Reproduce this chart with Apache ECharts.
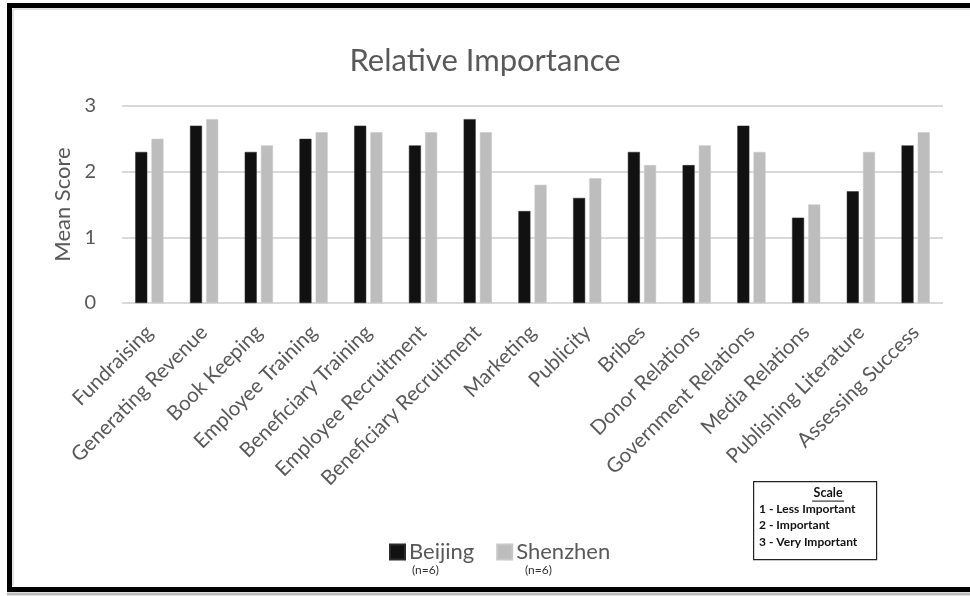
<!DOCTYPE html>
<html>
<head>
<meta charset="utf-8">
<style>
  html, body { margin: 0; padding: 0; background: #fff; }
  #chart { width: 970px; height: 596px; }
</style>
<script src="https://cdn.jsdelivr.net/npm/echarts@6/dist/echarts.min.js"></script>
</head>
<body>
<div id="chart"></div>
<script>
// Organisational functions rated on a 1-3 scale
const categories = [
  'Fundraising', 'Generating Revenue', 'Book Keeping', 'Employee Training',
  'Beneficiary Training', 'Employee Recruitment', 'Beneficiary Recruitment',
  'Marketing', 'Publicity', 'Bribes', 'Donor Relations', 'Government Relations',
  'Media Relations', 'Publishing Literature', 'Assessing Success'
];
const beijing  = [2.3, 2.7, 2.3, 2.5, 2.7, 2.4, 2.8, 1.4, 1.6, 2.3, 2.1, 2.7, 1.3, 1.7, 2.4];
const shenzhen = [2.5, 2.8, 2.4, 2.6, 2.6, 2.6, 2.6, 1.8, 1.9, 2.1, 2.4, 2.3, 1.5, 2.3, 2.6];
const seriesNames = ['Beijing', 'Shenzhen'];
const sampleNotes = ['(n=6)', '(n=6)'];
const scaleTitle = 'Scale';
const scaleLines = ['1 - Less Important', '2 - Important', '3 - Very Important'];

const FONT = 'Lato, "Open Sans", sans-serif';
const TEXT = '#595959';

const chart = echarts.init(document.getElementById('chart'), null, { renderer: 'canvas' });

const scaleBox = {
  type: 'group',
  left: 753, top: 481,
  children: [
    { type: 'rect', shape: { x: 0.5, y: 0.5, width: 123, height: 78 },
      style: { fill: '#fff', stroke: '#222', lineWidth: 1.2 } },
    { type: 'text', x: 75, y: 5,
      style: { text: scaleTitle, fill: '#111', font: 'bold 12.5px ' + FONT, textAlign: 'center' } },
    { type: 'line', shape: { x1: 59, y1: 20, x2: 91, y2: 20 },
      style: { stroke: '#111', lineWidth: 1 } },
    ...scaleLines.map((t, i) => ({
      type: 'text', x: 6, y: 22 + i * 16.5,
      style: { text: t, fill: '#111', font: 'bold 12px ' + FONT }
    }))
  ]
};

const option = {
  backgroundColor: '#fff',
  animation: false,
  title: {
    text: 'Relative Importance',
    left: 'center', top: 40,
    textStyle: { fontFamily: FONT, fontSize: 31, fontWeight: 'normal', color: TEXT }
  },
  legend: {
    data: seriesNames,
    left: 384, top: 536,
    itemWidth: 15, itemHeight: 15, itemGap: 22,
    icon: 'rect',
    textStyle: { fontFamily: FONT, fontSize: 22, color: TEXT, padding: [0, 0, 0, -1] }
  },
  grid: { left: 122, right: 27, top: 106, bottom: 293 },
  xAxis: {
    type: 'category',
    data: categories,
    axisLine: { show: false },
    axisTick: { show: false },
    axisLabel: {
      interval: 0, rotate: 45, margin: 26,
      fontFamily: FONT, fontSize: 20.5, color: TEXT
    }
  },
  yAxis: {
    type: 'value',
    min: 0, max: 3, interval: 1,
    name: 'Mean Score',
    nameLocation: 'middle',
    nameGap: 44,
    nameTextStyle: { fontFamily: FONT, fontSize: 22, color: TEXT },
    axisLabel: { fontFamily: FONT, fontSize: 20, color: TEXT, margin: 26 },
    splitLine: { lineStyle: { color: '#d9d9d9', width: 2 } }
  },
  series: [
    {
      name: seriesNames[0], type: 'bar', data: beijing,
      barWidth: 12, barGap: '35%',
      itemStyle: { color: '#111111', borderColor: '#2a2a2a', borderWidth: 0.5 }
    },
    {
      name: seriesNames[1], type: 'bar', data: shenzhen,
      barWidth: 12,
      itemStyle: { color: '#bdbdbd', borderColor: '#c8c8c8', borderWidth: 0.5 }
    }
  ],
  graphic: [
    // outer frame
    { type: 'rect', z: 100, silent: true,
      shape: { x: 9.5, y: 5.5, width: 990, height: 584 },
      style: { fill: 'none', stroke: '#000', lineWidth: 5 } },
    { type: 'line', z: 99, silent: true,
      shape: { x1: 13, y1: 9, x2: 13, y2: 586 },
      style: { stroke: '#e2e2e2', lineWidth: 2 } },
    { type: 'line', z: 99, silent: true,
      shape: { x1: 13, y1: 9, x2: 970, y2: 9 },
      style: { stroke: '#e2e2e2', lineWidth: 2 } },
    { type: 'line', z: 99, silent: true,
      shape: { x1: 7, y1: 594, x2: 970, y2: 594 },
      style: { stroke: '#bbbbbb', lineWidth: 3 } },
    { type: 'text', left: 412, top: 564,
      style: { text: sampleNotes[0], fill: '#333', font: '12px ' + FONT } },
    { type: 'text', left: 525, top: 564,
      style: { text: sampleNotes[1], fill: '#333', font: '12px ' + FONT } },
    scaleBox
  ]
};

chart.setOption(option);
</script>
</body>
</html>
